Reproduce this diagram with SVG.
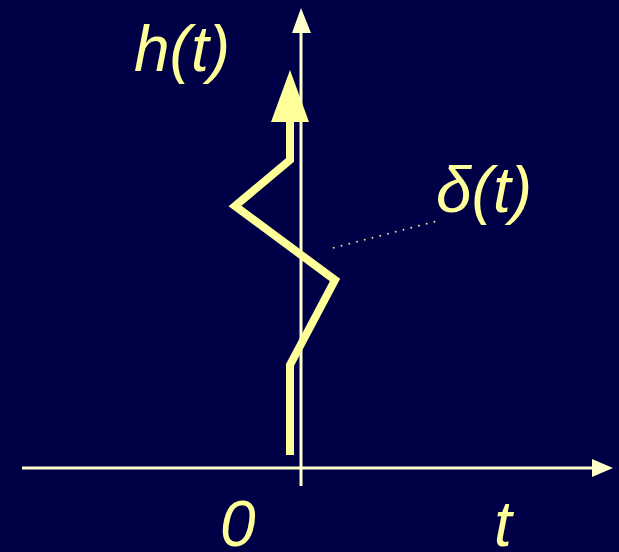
<svg xmlns="http://www.w3.org/2000/svg" width="619" height="552" viewBox="0 0 619 552">
<style>
.lbl{font-family:"Liberation Sans",Arial,sans-serif;font-style:italic;font-size:64px;fill:#FFFF99}
.axis{stroke:#FFFFCC;stroke-width:3;fill:none}
.ax-head{fill:#FFFFCC}
.sig{stroke:#FFFF99;stroke-width:8;fill:none;stroke-linejoin:miter}
</style>
<rect width="619" height="552" fill="#000046"/>
<g id="axes">
<line class="axis" x1="22" y1="468" x2="596" y2="468"/>
<polygon class="ax-head" points="592,459 613,468 592,477"/>
<line class="axis" x1="301" y1="486" x2="301" y2="30"/>
<polygon class="ax-head" points="292,33 301,8 311,33"/>
</g>
<g id="signal">
<polyline class="sig" points="290,455 290,365 335,280 235,206 290,160 290,118"/>
<polygon fill="#FFFF99" points="271,122 290,70 309,122"/>
</g>
<g id="connectors">
<line x1="333" y1="248" x2="437" y2="221" stroke="#FFFF99" stroke-width="1.6" stroke-dasharray="1.6 6.4"/>
</g>
<g id="labels">
<text class="lbl" x="134" y="71">h(t)</text>
<text class="lbl" x="436" y="212">δ(t)</text>
<text class="lbl" x="220" y="546" font-size="62">0</text>
<text class="lbl" x="494" y="546" font-size="62">t</text>
</g>
</svg>
